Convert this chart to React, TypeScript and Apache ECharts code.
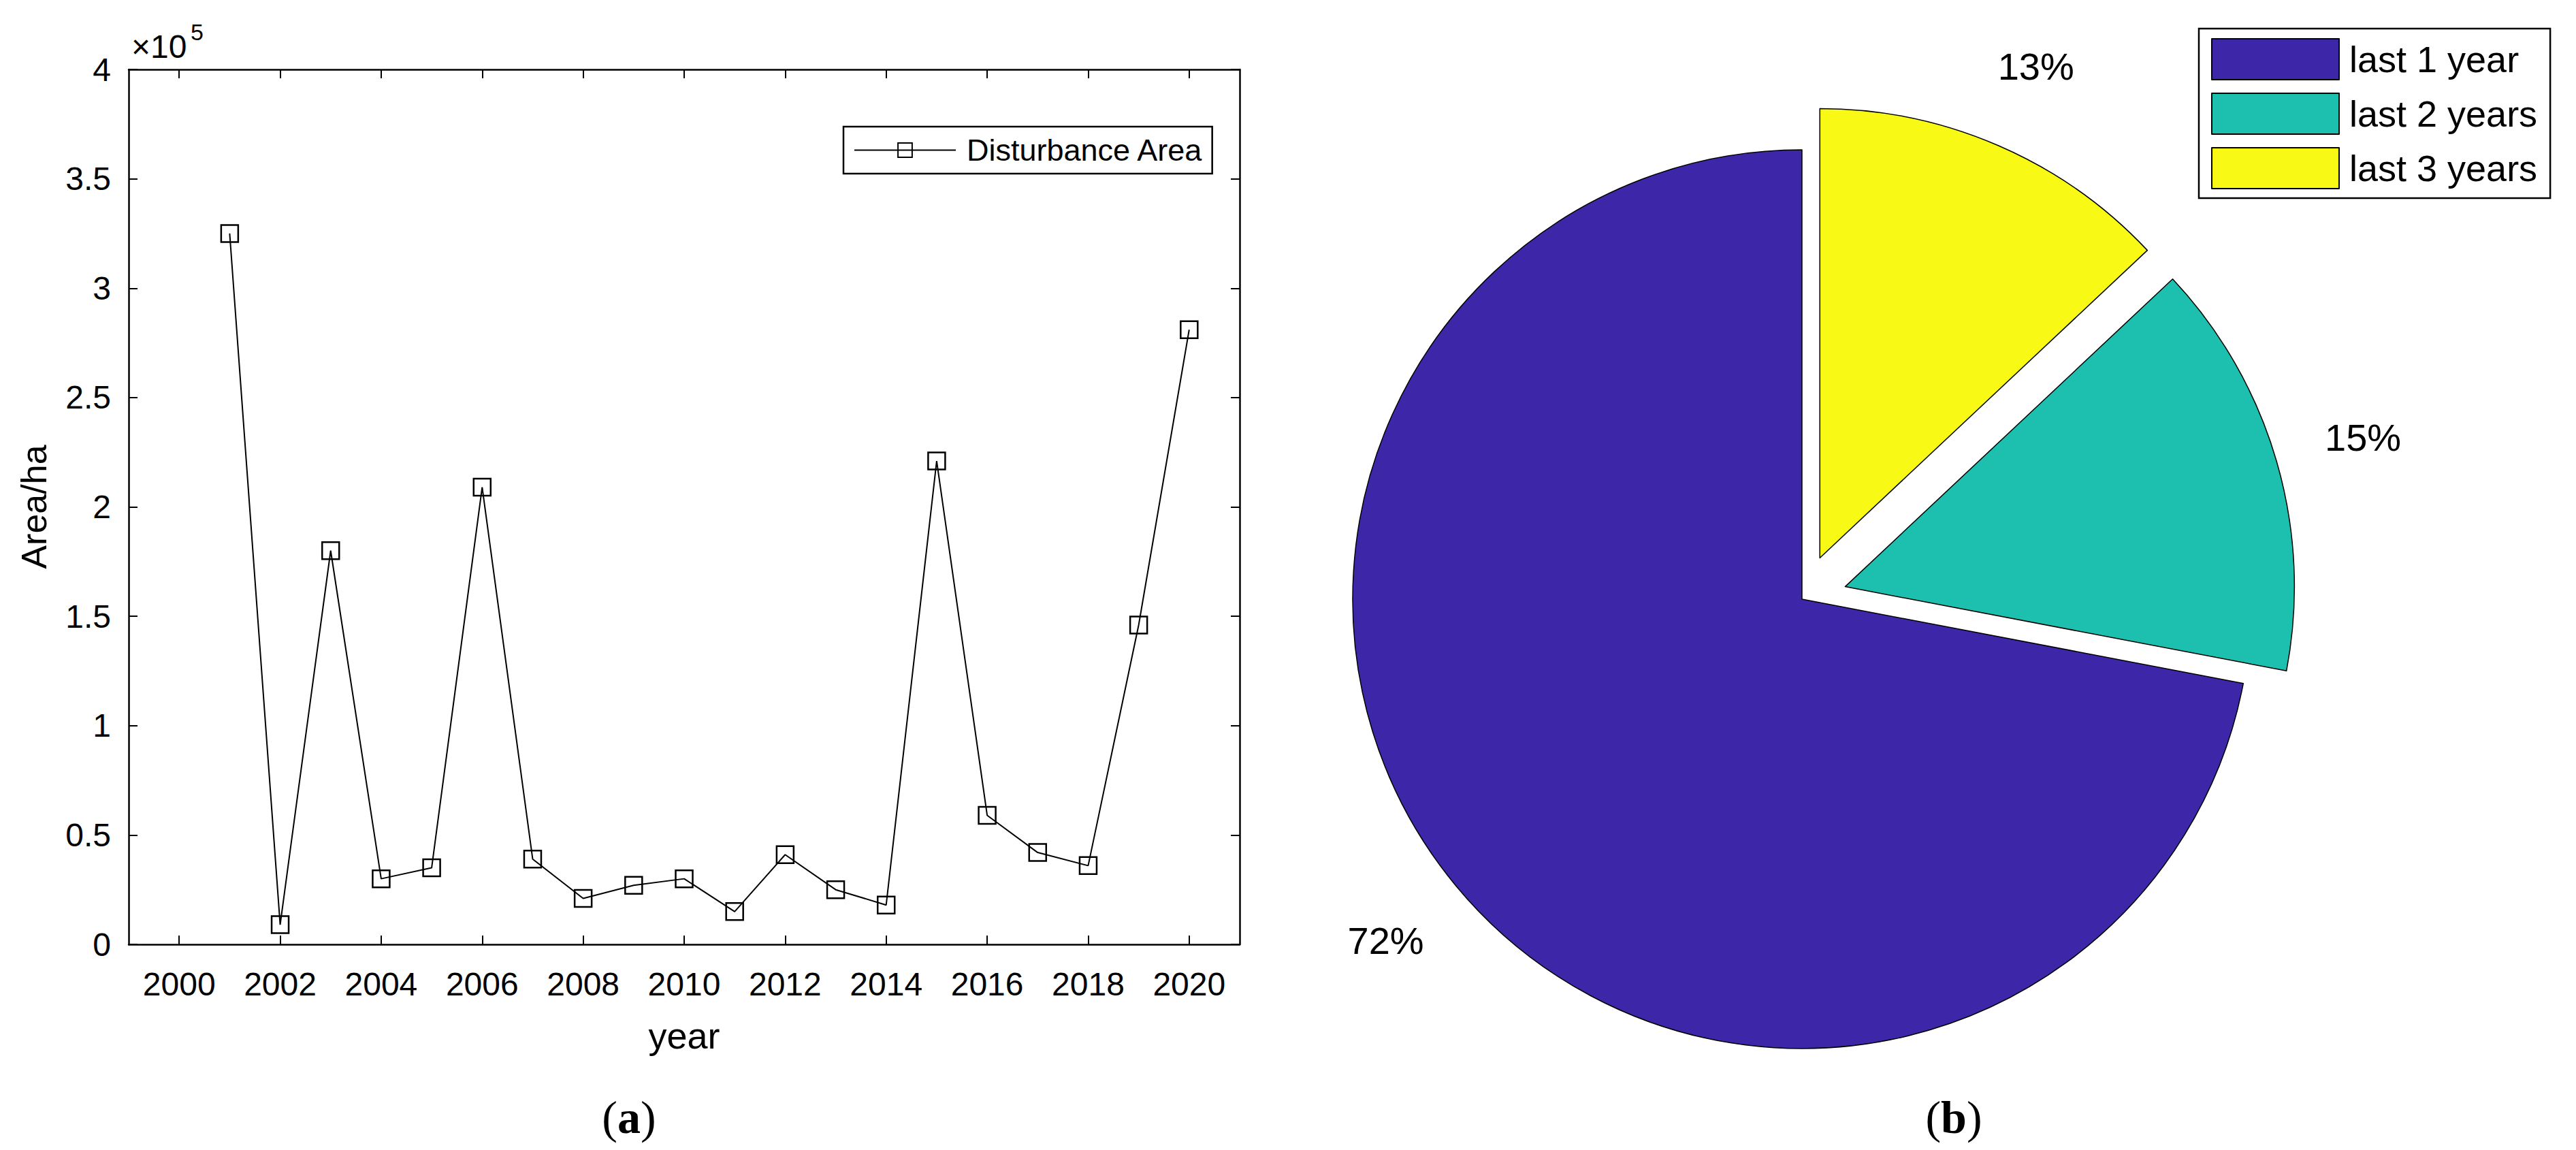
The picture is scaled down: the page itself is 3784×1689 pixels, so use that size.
import React, { useEffect, useRef } from 'react';
import * as echarts from 'echarts';

// ---------- data ----------
const years = [2001, 2002, 2003, 2004, 2005, 2006, 2007, 2008, 2009, 2010, 2011, 2012, 2013, 2014, 2015, 2016, 2017, 2018, 2019, 2020];
const disturbanceArea = [325000, 9000, 180000, 30000, 35000, 209000, 39000, 21000, 27000, 30000, 15000, 41000, 25000, 18000, 221000, 59000, 42000, 36000, 146000, 281000];
const xTickYears = [2000, 2002, 2004, 2006, 2008, 2010, 2012, 2014, 2016, 2018, 2020];
const lineSeriesName = 'Disturbance Area';

const pieNames = ['last 1 year', 'last 2 years', 'last 3 years'];
const pieValues = [72, 15, 13];
const pieExploded = [false, true, true];
const pieColors = ['#3E26A8', '#1DBFAF', '#F8FA15'];

const FONT = "'Liberation Sans', Arial, Helvetica, sans-serif";
const SERIF = "'Liberation Serif', 'DejaVu Serif', serif";

export default function App() {
  const ref = useRef<HTMLDivElement>(null);

  useEffect(() => {
    document.body.style.margin = '0';
    document.body.style.overflow = 'hidden';
    const chart = echarts.init(ref.current!, null, { renderer: 'svg' });

    const axisLine = { show: true, onZero: false, lineStyle: { color: '#000', width: 2.5 } };
    const axisTick = { show: true, inside: true, length: 13, lineStyle: { color: '#000', width: 2 } };

    const option: any = {
      animation: false,
      backgroundColor: '#fff',
      textStyle: { fontFamily: FONT },
      grid: [{ left: 189, top: 102, width: 1632, height: 1285, containLabel: false }],
      xAxis: [
        {
          type: 'value', gridIndex: 0, position: 'bottom', min: 1999, max: 2021,
          axisLine, axisTick: { ...axisTick, customValues: xTickYears },
          axisLabel: { customValues: xTickYears, fontSize: 48, color: '#000', margin: 34, fontFamily: FONT, formatter: (v: number) => String(v) },
          splitLine: { show: false },
          name: 'year', nameLocation: 'middle', nameGap: 107,
          nameTextStyle: { fontSize: 54, color: '#000', fontFamily: FONT },
        },
        {
          type: 'value', gridIndex: 0, position: 'top', min: 1999, max: 2021,
          axisLine, axisTick: { ...axisTick, customValues: xTickYears },
          axisLabel: { show: false }, splitLine: { show: false },
        },
      ],
      yAxis: [
        {
          type: 'value', gridIndex: 0, position: 'left', min: 0, max: 400000, interval: 50000,
          axisLine, axisTick,
          axisLabel: { fontSize: 48, color: '#000', margin: 26, fontFamily: FONT, formatter: (v: number) => String(v / 1e5) },
          splitLine: { show: false },
          name: 'Area/ha', nameLocation: 'middle', nameGap: 113,
          nameTextStyle: { fontSize: 52, color: '#000', fontFamily: FONT },
        },
        {
          type: 'value', gridIndex: 0, position: 'right', min: 0, max: 400000, interval: 50000,
          axisLine, axisTick, axisLabel: { show: false }, splitLine: { show: false },
        },
      ],
      legend: [
        {
          data: [lineSeriesName], left: 1239, top: 186, orient: 'horizontal',
          itemWidth: 149, itemHeight: 26, padding: [12, 13, 12, 15],
          borderColor: '#000', borderWidth: 2.5, backgroundColor: '#fff',
          selectedMode: false,
          textStyle: { fontSize: 45, color: '#000', fontFamily: FONT, padding: [0, 0, 0, 11] },
        },
        {
          data: pieNames, left: 3230, top: 42, orient: 'vertical', icon: 'rect',
          itemWidth: 187, itemHeight: 60, itemGap: 18, padding: [14, 19, 13, 18],
          borderColor: '#000', borderWidth: 2.5, backgroundColor: '#fff',
          selectedMode: false,
          textStyle: { fontSize: 54, color: '#000', fontFamily: FONT, padding: [0, 0, 0, 10] },
        },
      ],
      series: [
        {
          type: 'line', name: lineSeriesName, xAxisIndex: 0, yAxisIndex: 0,
          data: years.map((y, i) => [y, disturbanceArea[i]]),
          symbol: 'rect', symbolSize: 25,
          lineStyle: { color: '#000', width: 2 },
          itemStyle: { color: 'rgba(255,255,255,0)', borderColor: '#000', borderWidth: 2.5 },
          emphasis: { disabled: true },
          z: 3,
        },
        {
          type: 'pie', name: 'pie', center: [2647, 880], radius: 660,
          startAngle: 90, clockwise: false,
          selectedMode: 'multiple', selectedOffset: 66, avoidLabelOverlap: false,
          data: pieNames.map((n, i) => ({
            name: n, value: pieValues[i], selected: pieExploded[i],
            itemStyle: { color: pieColors[i] },
          })),
          itemStyle: { borderColor: '#000', borderWidth: 1.5 },
          label: {
            show: true, position: 'outside', fontSize: 56, color: '#000', fontFamily: FONT,
            formatter: (p: any) => Math.round(p.percent) + '%',
          },
          labelLine: { show: false, length: 127, length2: 0 },
          labelLayout: () => ({ align: 'center', verticalAlign: 'middle' }),
          emphasis: { disabled: true },
          select: { itemStyle: { borderColor: '#000', borderWidth: 1.5 } },
        },
      ],
      graphic: [
        { type: 'text', left: 193, top: 44, style: { text: '×10', fontSize: 48, fill: '#000', fontFamily: FONT } },
        { type: 'text', left: 280, top: 30, style: { text: '5', fontSize: 34, fill: '#000', fontFamily: FONT } },
        {
          type: 'text', x: 924, y: 1641,
          style: {
            text: '({b|a})', fontSize: 68, fill: '#000', fontFamily: SERIF, align: 'center', verticalAlign: 'middle',
            rich: { b: { fontWeight: 'bold', fontSize: 68, fontFamily: SERIF } },
          },
        },
        {
          type: 'text', x: 2870, y: 1641,
          style: {
            text: '({b|b})', fontSize: 68, fill: '#000', fontFamily: SERIF, align: 'center', verticalAlign: 'middle',
            rich: { b: { fontWeight: 'bold', fontSize: 68, fontFamily: SERIF } },
          },
        },
      ],
    };

    chart.setOption(option);
    return () => chart.dispose();
  }, []);

  return <div ref={ref} style={{ width: 3784, height: 1689 }} />;
}
